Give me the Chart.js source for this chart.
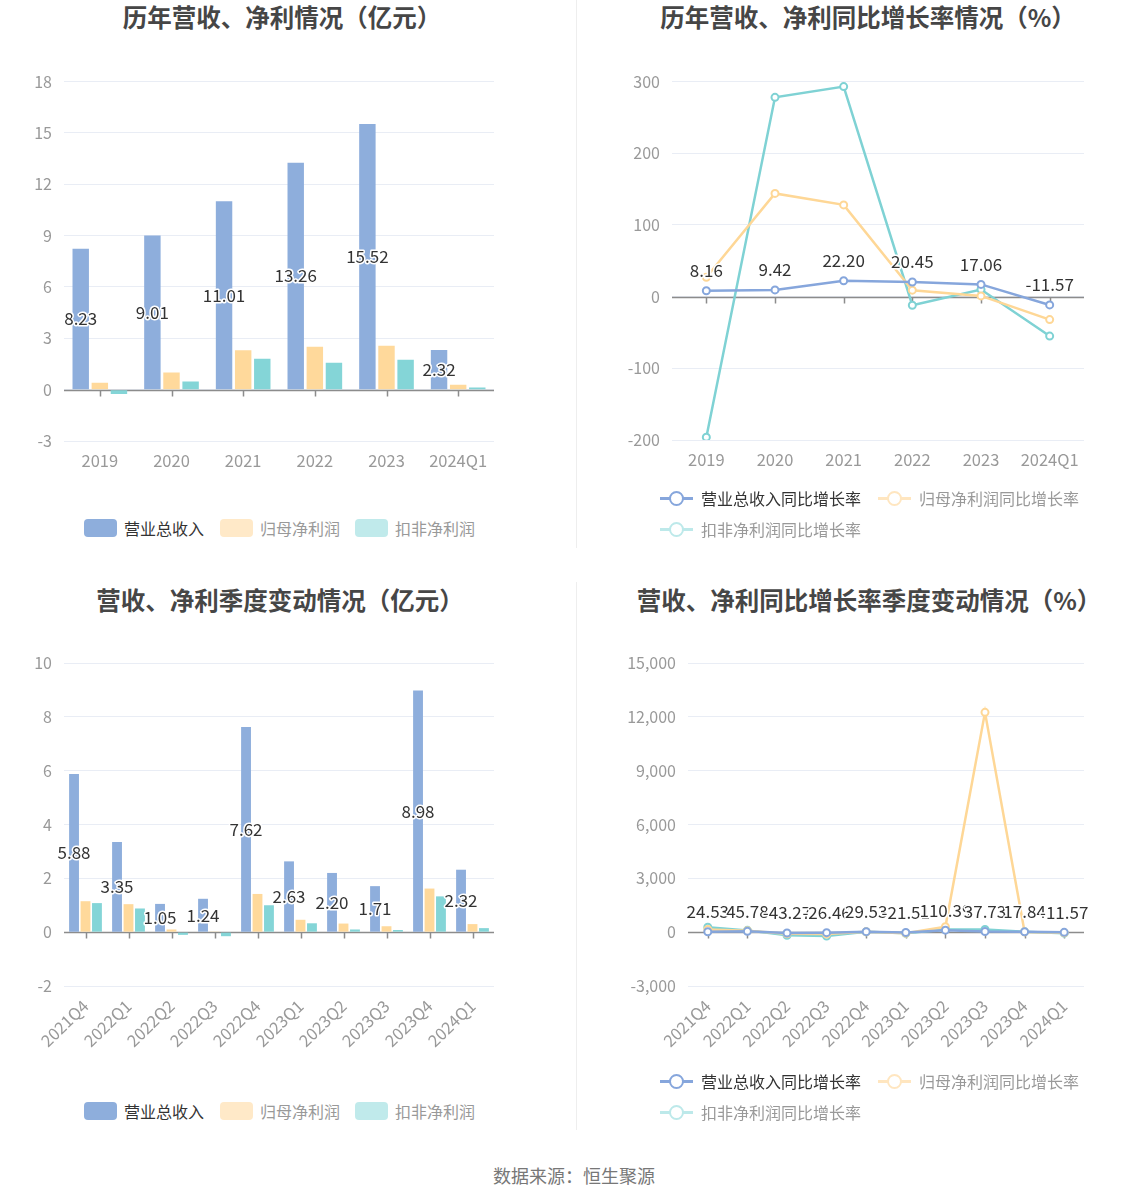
<!DOCTYPE html>
<html>
<head>
<meta charset="utf-8">
<script src="https://cdn.jsdelivr.net/npm/chart.js@4.4.1/dist/chart.umd.min.js"></script>
<style>
    body { margin: 0; width: 1148px; height: 1202px; background: #fff; position: relative; overflow: hidden;
           font-family: "Noto Sans CJK SC", "Noto Sans", sans-serif; }
    .title { position: absolute; text-align: center; font-size: 24.5px; font-weight: bold; color: #464646; line-height: 34px; }
    canvas { position: absolute; }
    .divider { position: absolute; left: 576px; width: 1px; background: #eeeeee; }
    .lg { position: absolute; font-size: 16px; line-height: 20px; height: 20px; white-space: nowrap; }
    .lg i { display: inline-block; vertical-align: top; }
    .box { width: 33px; height: 18px; border-radius: 4px; margin-top: 1px; margin-right: 7px; }
    .ln { position: relative; width: 33px; height: 20px; margin-right: 8px; }
    .ln::before { content: ''; position: absolute; left: 0; right: 0; top: 9px; height: 2.5px; background: var(--c); }
    .ln::after { content: ''; position: absolute; left: 9px; top: 3px; width: 11px; height: 11px; border-radius: 50%;
                 border: 2.5px solid var(--c); background: #fff; }
    .footer { position: absolute; left: 0; width: 1148px; top: 1162px; text-align: center; font-size: 18px; color: #777; }
</style>
</head>
<body>
<div class="divider" style="top:0; height:548px"></div>
<div class="divider" style="top:582px; height:548px"></div>

<div class="title" style="left:7px; width:550px; top:0">历年营收、净利情况（亿元）</div>
<div class="title" style="left:582px; width:572px; top:0">历年营收、净利同比增长率情况（%）</div>
<div class="title" style="left:6px; width:548px; top:583px">营收、净利季度变动情况（亿元）</div>
<div class="title" style="left:582px; width:574px; top:583px">营收、净利同比增长率季度变动情况（%）</div>

<canvas id="yearBar" width="576" height="430" style="left:0; top:60px"></canvas>
<canvas id="yearLine" width="572" height="430" style="left:576px; top:60px"></canvas>
<canvas id="quarterBar" width="576" height="430" style="left:0; top:640px"></canvas>
<canvas id="quarterLine" width="572" height="430" style="left:576px; top:640px"></canvas>

<!-- legends -->
<div class="lg" style="left:84px; top:518px; color:#333"><i class="box" style="background:#8eaedc"></i>营业总收入</div>
<div class="lg" style="left:220px; top:518px; color:#999"><i class="box" style="background:#ffe9c8"></i>归母净利润</div>
<div class="lg" style="left:355px; top:518px; color:#999"><i class="box" style="background:#c0eaeb"></i>扣非净利润</div>

<div class="lg" style="left:660px; top:488px; color:#333"><i class="ln" style="--c:#86a6dc"></i>营业总收入同比增长率</div>
<div class="lg" style="left:878px; top:488px; color:#999"><i class="ln" style="--c:#ffe6c0"></i>归母净利润同比增长率</div>
<div class="lg" style="left:660px; top:519px; color:#999"><i class="ln" style="--c:#bde9ea"></i>扣非净利润同比增长率</div>

<div class="lg" style="left:84px; top:1101px; color:#333"><i class="box" style="background:#8eaedc"></i>营业总收入</div>
<div class="lg" style="left:220px; top:1101px; color:#999"><i class="box" style="background:#ffe9c8"></i>归母净利润</div>
<div class="lg" style="left:355px; top:1101px; color:#999"><i class="box" style="background:#c0eaeb"></i>扣非净利润</div>

<div class="lg" style="left:660px; top:1071px; color:#333"><i class="ln" style="--c:#86a6dc"></i>营业总收入同比增长率</div>
<div class="lg" style="left:878px; top:1071px; color:#999"><i class="ln" style="--c:#ffe6c0"></i>归母净利润同比增长率</div>
<div class="lg" style="left:660px; top:1102px; color:#999"><i class="ln" style="--c:#bde9ea"></i>扣非净利润同比增长率</div>

<div class="footer">数据来源：恒生聚源</div>

<script>
// --- Data ---
const years = ['2019', '2020', '2021', '2022', '2023', '2024Q1'];
const yearRevenue = [8.23, 9.01, 11.01, 13.26, 15.52, 2.32];
const yearNetProfit = [0.40, 1.00, 2.30, 2.50, 2.56, 0.28];
const yearDeducted = [-0.25, 0.47, 1.80, 1.57, 1.75, 0.12];
const yearRevenueGrowth = [8.16, 9.42, 22.20, 20.45, 17.06, -11.57];
const yearNetGrowth = [27, 144, 128, 9, 1, -32];
const yearDeductedGrowth = [-196, 278, 293, -12, 10, -55];

const quarters = ['2021Q4', '2022Q1', '2022Q2', '2022Q3', '2022Q4', '2023Q1', '2023Q2', '2023Q3', '2023Q4', '2024Q1'];
const qRevenue = [5.88, 3.35, 1.05, 1.24, 7.62, 2.63, 2.20, 1.71, 8.98, 2.32];
const qNetProfit = [1.15, 1.04, 0.10, 0.01, 1.42, 0.46, 0.32, 0.22, 1.62, 0.30];
const qDeducted = [1.08, 0.88, -0.10, -0.15, 1.00, 0.33, 0.10, 0.08, 1.33, 0.15];
const qRevenueGrowth = [24.53, 45.78, -43.27, -26.46, 29.53, -21.51, 110.39, 37.73, 17.84, -11.57];
const qNetGrowth = [150, 80, -90, -99, 20, -56, 300, 12250, 14, -35];
const qDeductedGrowth = [280, 100, -170, -220, 20, -60, 150, 150, 30, -55];

const yearTicks = { min: -3, max: 18, step: 3 };
const yearRateTicks = { min: -200, max: 300, step: 100 };
const quarterTicks = { min: -2, max: 10, step: 2 };
const quarterRateTicks = { min: -3000, max: 15000, step: 3000 };

// --- Colors ---
const BLUE = '#8eaedc', ORANGE = '#ffd99b', TEAL = '#84d5d7';
const LBLUE = '#86a6dc', LORANGE = '#fed796', LTEAL = '#7fd2d4';
const FONT = '"Noto Sans CJK SC", "Noto Sans", sans-serif';

// zero axis line + ticks, and value labels for the first dataset
const zeroAxisPlugin = {
    id: 'zeroAxis',
    beforeDatasetsDraw(chart) {
        const { ctx, chartArea, scales } = chart;
        const y0 = Math.round(scales.y.getPixelForValue(0)) + 0.5;
        ctx.save();
        ctx.strokeStyle = '#8c8c8c';
        ctx.lineWidth = 1.5;
        ctx.beginPath();
        ctx.moveTo(chartArea.left, y0);
        ctx.lineTo(chartArea.right, y0);
        chart.data.labels.forEach((l, i) => {
            const x = Math.round(scales.x.getPixelForValue(i)) + 0.5;
            ctx.moveTo(x, y0);
            ctx.lineTo(x, y0 + 6);
        });
        ctx.stroke();
        ctx.restore();
    }
};

const valueLabelPlugin = {
    id: 'valueLabels',
    afterDatasetsDraw(chart) {
        const { ctx } = chart;
        const meta = chart.getDatasetMeta(0);
        const ds = chart.data.datasets[0];
        const isBar = chart.config.type === 'bar';
        ctx.save();
        ctx.font = '17px ' + FONT;
        ctx.textAlign = 'center';
        ctx.textBaseline = 'middle';
        ctx.lineJoin = 'round';
        meta.data.forEach((el, i) => {
            const txt = ds.data[i].toFixed(2);
            const x = el.x;
            const y = isBar ? (el.y + el.base) / 2 : el.y - 20;
            ctx.strokeStyle = '#fff';
            ctx.lineWidth = 3;
            ctx.strokeText(txt, x, y);
            ctx.fillStyle = '#333';
            ctx.fillText(txt, x, y);
        });
        ctx.restore();
    }
};

function yScale(t, width, fmt) {
    return {
        min: t.min, max: t.max,
        border: { display: false },
        grid: { color: '#e9edf5', lineWidth: 1, drawTicks: false },
        ticks: {
            stepSize: t.step, padding: 12, color: '#999',
            font: { size: 16, family: FONT },
            callback: fmt || (v => v)
        },
        afterFit(s) { s.width = width; }
    };
}

function xScale(height, rotate) {
    return {
        offset: true,
        border: { display: false },
        grid: { display: false, drawTicks: false },
        ticks: {
            color: '#999', padding: 10, autoSkip: false,
            maxRotation: rotate || 0, minRotation: rotate || 0,
            font: { size: 16.5, family: FONT }
        },
        afterFit(s) { s.height = height; }
    };
}

function barDataset(data, color) {
    return { data, backgroundColor: color, categoryPercentage: 0.8, barPercentage: 0.86 };
}

function lineDataset(data, color) {
    return {
        data, borderColor: color, backgroundColor: '#fff', borderWidth: 2.5,
        pointRadius: 3.5, pointBorderWidth: 2, pointBackgroundColor: '#fff', pointBorderColor: color,
        tension: 0
    };
}

function makeChart(id, type, labels, datasets, y, x, padTop, padRight) {
    return new Chart(document.getElementById(id), {
        type,
        data: { labels, datasets },
        options: {
            responsive: false,
            animation: false,
            layout: { padding: { top: padTop, right: padRight, left: 0, bottom: 0 } },
            plugins: { legend: { display: false }, tooltip: { enabled: false } },
            scales: { x, y }
        },
        plugins: [zeroAxisPlugin, valueLabelPlugin]
    });
}

makeChart('yearBar', 'bar', years,
    [barDataset(yearRevenue, BLUE), barDataset(yearNetProfit, ORANGE), barDataset(yearDeducted, TEAL)],
    yScale(yearTicks, 64), xScale(49), 20, 82);

makeChart('yearLine', 'line', years,
    [lineDataset(yearRevenueGrowth, LBLUE), lineDataset(yearNetGrowth, LORANGE), lineDataset(yearDeductedGrowth, LTEAL)],
    yScale(yearRateTicks, 96), xScale(50), 21, 64);

makeChart('quarterBar', 'bar', quarters,
    [barDataset(qRevenue, BLUE), barDataset(qNetProfit, ORANGE), barDataset(qDeducted, TEAL)],
    yScale(quarterTicks, 64), xScale(84, 44), 23, 82);

makeChart('quarterLine', 'line', quarters,
    [lineDataset(qRevenueGrowth, LBLUE), lineDataset(qNetGrowth, LORANGE), lineDataset(qDeductedGrowth, LTEAL)],
    yScale(quarterRateTicks, 112, v => v.toLocaleString('en-US')), xScale(84, 44), 23, 64);
</script>
</body>
</html>
